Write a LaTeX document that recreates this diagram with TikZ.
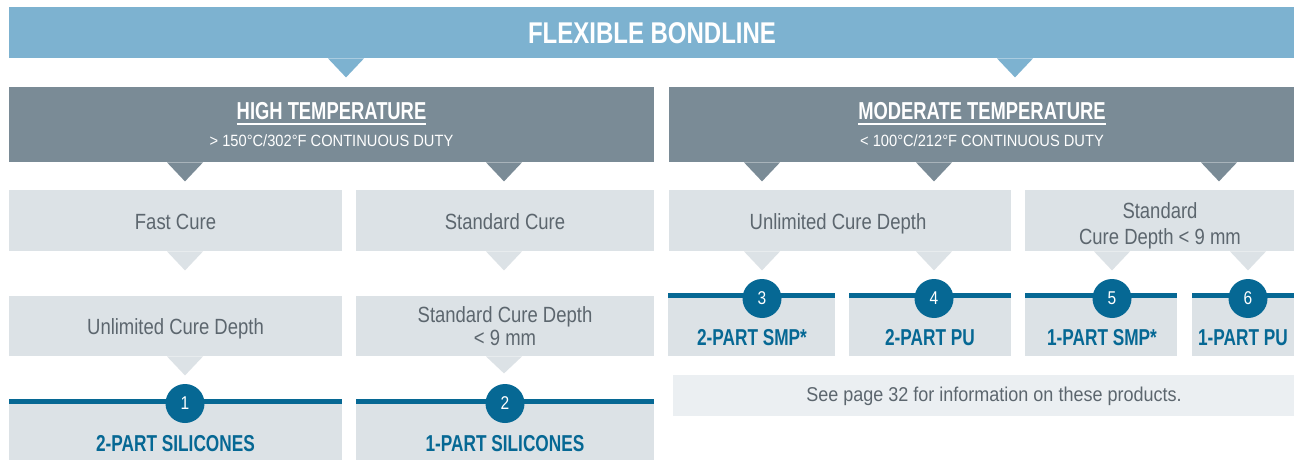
\documentclass[tikz,border=0pt]{standalone}
\usepackage{fontspec}
\newfontfamily\fB{Liberation Sans}[FakeStretch=0.80]
\newfontfamily\fH{Liberation Sans}[FakeStretch=0.75]
\newfontfamily\fR{Liberation Sans}[FakeStretch=0.84]
\newfontfamily\fS{Liberation Sans}[FakeStretch=0.90]
\usetikzlibrary{calc}
\definecolor{bannerc}{RGB}{125,178,208}
\definecolor{headc}{RGB}{122,139,150}
\definecolor{rowc}{RGB}{220,226,230}
\definecolor{footc}{RGB}{235,239,242}
\definecolor{txtc}{RGB}{92,102,110}
\definecolor{bluec}{RGB}{6,104,148}
\tikzset{
  rbox/.style={fill=#1, draw=none, inner sep=0pt, anchor=north west},
  lbl/.style={anchor=base, inner sep=0pt},
  bannertxt/.style={lbl, white, font=\fB\bfseries\fontsize{30}{30}\selectfont},
  titletxt/.style={lbl, white, font=\fH\bfseries\fontsize{24.5}{24.5}\selectfont},
  subtxt/.style={lbl, white, font=\fS\fontsize{16.3}{16.3}\selectfont},
  rowtxt/.style={lbl, txtc, font=\fR\fontsize{22}{22}\selectfont},
  prodtxt/.style={lbl, bluec, font=\fH\bfseries\fontsize{23}{23}\selectfont},
  foottxt/.style={lbl, txtc, font=\fS\fontsize{20}{20}\selectfont},
  numc/.style={circle, fill=bluec, minimum size=39pt, inner sep=0pt, text=white, font=\fR\fontsize{18.5}{18.5}\selectfont},
  topline/.style={draw=bluec, line width=5pt}
}
% pointer triangle under a node: colour, node, x position, depth
\newcommand\ptr[4]{\fill[#1] let \p1=(#2.south) in (#3pt-18pt,\y1) -- (#3pt,\y1-#4pt) -- (#3pt+18pt,\y1) -- cycle;}
\begin{document}
\begin{tikzpicture}[x=1pt,y=-1pt]
\useasboundingbox (0,0) rectangle (1294,460);
\fill[white] (0,0) rectangle (1294,460);
% banner
\node[rbox=bannerc, minimum width=1285pt, minimum height=51pt] (banner) at (9,7) {};
\node[bannertxt] (bannert) at (652,43.5) {FLEXIBLE BONDLINE};
\ptr{bannerc}{banner}{346}{19}
\ptr{bannerc}{banner}{1015}{19}
% temperature headers
\node[rbox=headc, minimum width=645pt, minimum height=75pt] (hight) at (9,87) {};
\node[rbox=headc, minimum width=625pt, minimum height=75pt] (modt) at (669,87) {};
\node[titletxt] (hightitle) at (331.5,119.3) {HIGH TEMPERATURE};
\draw[white, line width=1.3pt] ([yshift=-4.8pt]hightitle.base west) -- ([yshift=-4.8pt]hightitle.base east);
\node[subtxt] (highsub) at (331.5,146.7) {> 150°C/302°F CONTINUOUS DUTY};
\node[titletxt] (modtitle) at (982,119.3) {MODERATE TEMPERATURE};
\draw[white, line width=1.3pt] ([yshift=-4.8pt]modtitle.base west) -- ([yshift=-4.8pt]modtitle.base east);
\node[subtxt] (modsub) at (982,146.7) {< 100°C/212°F CONTINUOUS DUTY};
\ptr{headc}{hight}{185}{19}
\ptr{headc}{hight}{504}{19}
\ptr{headc}{modt}{762}{19}
\ptr{headc}{modt}{934}{19}
\ptr{headc}{modt}{1219}{19}
% row 2
\node[rbox=rowc, minimum width=333pt, minimum height=61pt] (fast) at (9,190) {};
\node[rbox=rowc, minimum width=298pt, minimum height=61pt] (stdcure) at (356,190) {};
\node[rbox=rowc, minimum width=342pt, minimum height=61pt] (unlim) at (669,190) {};
\node[rbox=rowc, minimum width=269pt, minimum height=61pt] (stddepth) at (1025,190) {};
\node[rowtxt] (fastt) at (175.5,229.3) {Fast Cure};
\node[rowtxt] (stdcuret) at (505,229.3) {Standard Cure};
\node[rowtxt] (unlimt) at (838,229.3) {Unlimited Cure Depth};
\node[rowtxt] (stddeptha) at (1160,218.3) {Standard};
\node[rowtxt] (stddepthb) at (1160,244) {Cure Depth < 9 mm};
\ptr{rowc}{fast}{185}{19}
\ptr{rowc}{stdcure}{504}{19}
\ptr{rowc}{unlim}{762}{19}
\ptr{rowc}{unlim}{934}{19}
\ptr{rowc}{stddepth}{1112}{19}
\ptr{rowc}{stddepth}{1248}{19}
% row 3 left
\node[rbox=rowc, minimum width=333pt, minimum height=60pt] (unlim1) at (9,296) {};
\node[rbox=rowc, minimum width=298pt, minimum height=60pt] (stddepth1) at (356,296) {};
\node[rowtxt] (unlim1t) at (175.5,334.3) {Unlimited Cure Depth};
\node[rowtxt] (stddepth1a) at (505,322.7) {Standard Cure Depth};
\node[rowtxt] (stddepth1b) at (505,345.3) {< 9 mm};
\ptr{rowc}{unlim1}{185}{19}
\ptr{rowc}{stddepth1}{504}{17}
% product boxes left
\node[rbox=rowc, minimum width=333pt, minimum height=61pt] (prod1) at (9,399) {};
\node[rbox=rowc, minimum width=298pt, minimum height=61pt] (prod2) at (356,399) {};
\draw[topline] ([yshift=-2.5pt]prod1.north west) -- ([yshift=-2.5pt]prod1.north east);
\draw[topline] ([yshift=-2.5pt]prod2.north west) -- ([yshift=-2.5pt]prod2.north east);
\node[numc] (c1) at (185,403.5) {1};
\node[numc] (c2) at (505,403.5) {2};
\node[prodtxt] (prod1t) at (175.5,451.7) {2-PART SILICONES};
\node[prodtxt] (prod2t) at (505,451.7) {1-PART SILICONES};
% product boxes right
\node[rbox=rowc, minimum width=167pt, minimum height=63pt] (p3) at (668,293) {};
\node[rbox=rowc, minimum width=162pt, minimum height=63pt] (p4) at (849,293) {};
\node[rbox=rowc, minimum width=152pt, minimum height=63pt] (p5) at (1025,293) {};
\node[rbox=rowc, minimum width=102pt, minimum height=63pt] (p6) at (1192,293) {};
\foreach \p in {p3,p4,p5,p6}{
  \draw[topline] ([yshift=-2.5pt]\p.north west) -- ([yshift=-2.5pt]\p.north east);
}
\node[numc] (c3) at (762,298.5) {3};
\node[numc] (c4) at (934,298.5) {4};
\node[numc] (c5) at (1112,298.5) {5};
\node[numc] (c6) at (1248,298.5) {6};
\node[prodtxt] (p3t) at (752,345.7) {2-PART SMP*};
\node[prodtxt] (p4t) at (930,345.7) {2-PART PU};
\node[prodtxt] (p5t) at (1102,345.7) {1-PART SMP*};
\node[prodtxt] (p6t) at (1243,345.7) {1-PART PU};
% footnote
\node[rbox=footc, minimum width=621pt, minimum height=41pt] (foot) at (673,375) {};
\node[foottxt] (foott) at (994,401.7) {See page 32 for information on these products.};
\end{tikzpicture}
\end{document}
